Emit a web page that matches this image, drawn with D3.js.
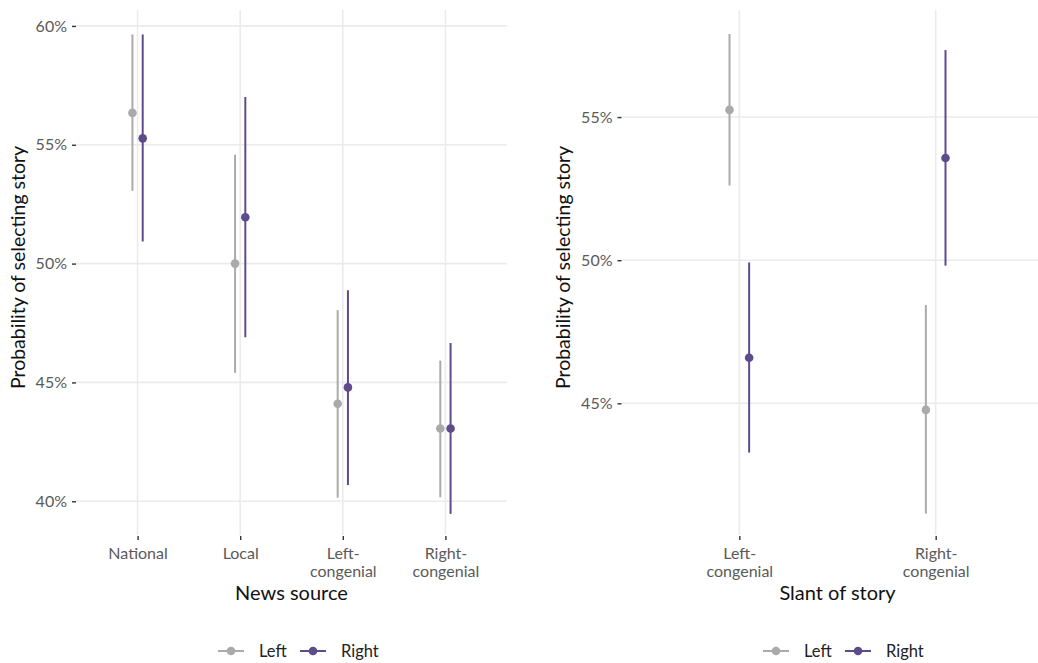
<!DOCTYPE html>
<html>
<head>
<meta charset="utf-8">
<script src="https://cdn.jsdelivr.net/npm/d3@7"></script>
<style>
  html, body { margin: 0; padding: 0; background: #ffffff; }
  svg { display: block; }
  text { font-family: Lato, "Open Sans", sans-serif; }
</style>
</head>
<body>
<svg id="chart" width="1038" height="663"></svg>
<script>
// ---------- data ----------
const groups = ["Left", "Right"];
const groupColors = ["#aaaaaa", "#5d4b8c"];

// Panel 1: News source
const sourceCategories = ["National", "Local", "Left-congenial", "Right-congenial"];
const sourceLabels = [["National"], ["Local"], ["Left-", "congenial"], ["Right-", "congenial"]];
const sourceLeftEst  = [56.34, 50.00, 44.10, 43.06];
const sourceLeftLo   = [53.06, 45.40, 40.15, 40.17];
const sourceLeftHi   = [59.64, 54.58, 48.04, 45.92];
const sourceRightEst = [55.27, 51.95, 44.79, 43.06];
const sourceRightLo  = [50.93, 46.90, 40.68, 39.47];
const sourceRightHi  = [59.64, 57.01, 48.88, 46.66];
const sourceTicks = [40, 45, 50, 55, 60];

// Panel 2: Slant of story
const slantCategories = ["Left-congenial", "Right-congenial"];
const slantLabels = [["Left-", "congenial"], ["Right-", "congenial"]];
const slantLeftEst  = [55.25, 44.77];
const slantLeftLo   = [52.61, 41.15];
const slantLeftHi   = [57.90, 48.43];
const slantRightEst = [46.59, 53.57];
const slantRightLo  = [43.28, 49.81];
const slantRightHi  = [49.92, 57.34];
const slantTicks = [45, 50, 55];

// ---------- drawing ----------
const svg = d3.select("#chart");

function panel(opts) {
  const { x0, x1, y0, y1, domain, cats, labels, ticks, series, xTitle, yTitleX } = opts;
  const g = svg.append("g");
  const x = d3.scalePoint().domain(cats).range([x0, x1]).padding(0.6);
  const y = d3.scaleLinear().domain(domain).range([y1, y0]);
  const step = x.step();
  const dodge = [-0.05 * step, 0.05 * step];

  // gridlines
  g.append("g").selectAll("line").data(ticks).join("line")
    .attr("x1", x0).attr("x2", x1)
    .attr("y1", d => y(d)).attr("y2", d => y(d))
    .attr("stroke", "#ebebeb").attr("stroke-width", 1.6);
  g.append("g").selectAll("line").data(cats).join("line")
    .attr("x1", d => x(d)).attr("x2", d => x(d))
    .attr("y1", y0).attr("y2", y1)
    .attr("stroke", "#ebebeb").attr("stroke-width", 1.6);

  // y axis
  const yAxis = d3.axisLeft(y).tickValues(ticks).tickSize(4).tickPadding(5)
    .tickFormat(d => d + "%");
  const ya = g.append("g").attr("transform", `translate(${x0},0)`).call(yAxis);
  ya.select(".domain").remove();
  ya.selectAll(".tick line").attr("stroke", "#333333").attr("stroke-width", 1.4);
  ya.selectAll(".tick text").attr("fill", "#5a5a5a").style("font-size", "16px")
    .style("font-family", "Lato, 'Open Sans', sans-serif");

  // x axis
  const xAxis = d3.axisBottom(x).tickSize(4).tickPadding(5).tickFormat("");
  const xa = g.append("g").attr("transform", `translate(0,${y1 + 1})`).call(xAxis);
  xa.select(".domain").remove();
  xa.selectAll(".tick line").attr("stroke", "#333333").attr("stroke-width", 1.4);
  xa.selectAll(".tick").each(function(d, i) {
    const t = d3.select(this).append("text")
      .attr("fill", "#5a5a5a").attr("text-anchor", "middle")
      .style("font-size", "16px");
    labels[i].forEach((ln, j) => {
      t.append("tspan").attr("x", 0).attr("y", 23 + j * 18).text(ln);
    });
  });

  // series
  series.forEach((s, si) => {
    const sg = g.append("g");
    const data = cats.map((c, i) => ({ c, est: s.est[i], lo: s.lo[i], hi: s.hi[i] }));
    sg.selectAll("line").data(data).join("line")
      .attr("x1", d => x(d.c) + dodge[si]).attr("x2", d => x(d.c) + dodge[si])
      .attr("y1", d => y(d.lo)).attr("y2", d => y(d.hi))
      .attr("stroke", groupColors[si]).attr("stroke-width", 2);
    sg.selectAll("circle").data(data).join("circle")
      .attr("cx", d => x(d.c) + dodge[si]).attr("cy", d => y(d.est))
      .attr("r", 4.3).attr("fill", groupColors[si]);
  });

  // axis titles
  g.append("text").attr("x", (x0 + x1) / 2).attr("y", 600)
    .attr("text-anchor", "middle").attr("fill", "#111111")
    .style("font-size", "20px").text(xTitle);
  g.append("text")
    .attr("transform", `translate(${yTitleX},${(y0 + y1) / 2 - 5}) rotate(-90)`)
    .attr("text-anchor", "middle").attr("fill", "#111111")
    .style("font-size", "19.5px").text("Probability of selecting story");
}

panel({
  x0: 76, x1: 507, y0: 10, y1: 535, domain: [38.58, 60.67],
  cats: sourceCategories, labels: sourceLabels, ticks: sourceTicks,
  series: [
    { est: sourceLeftEst, lo: sourceLeftLo, hi: sourceLeftHi },
    { est: sourceRightEst, lo: sourceRightLo, hi: sourceRightHi }
  ],
  xTitle: "News source", yTitleX: 25
});

panel({
  x0: 621.5, x1: 1053.5, y0: 10, y1: 535, domain: [40.40, 58.74],
  cats: slantCategories, labels: slantLabels, ticks: slantTicks,
  series: [
    { est: slantLeftEst, lo: slantLeftLo, hi: slantLeftHi },
    { est: slantRightEst, lo: slantRightLo, hi: slantRightHi }
  ],
  xTitle: "Slant of story", yTitleX: 570
});

// legends
function legend(xStart, yc) {
  const lg = svg.append("g").attr("transform", `translate(${xStart},${yc})`);
  const offsets = [0, 82];
  groups.forEach((name, i) => {
    const item = lg.append("g").attr("transform", `translate(${offsets[i]},0)`);
    item.append("line").attr("x1", 0).attr("x2", 26).attr("y1", 0).attr("y2", 0)
      .attr("stroke", groupColors[i]).attr("stroke-width", 2);
    item.append("circle").attr("cx", 13).attr("cy", 0).attr("r", 4.3).attr("fill", groupColors[i]);
    item.append("text").attr("x", 41).attr("y", 5.5).attr("fill", "#222222")
      .style("font-size", "16.5px").text(name);
  });
}
legend(218, 651);
legend(763, 651);
</script>
</body>
</html>
